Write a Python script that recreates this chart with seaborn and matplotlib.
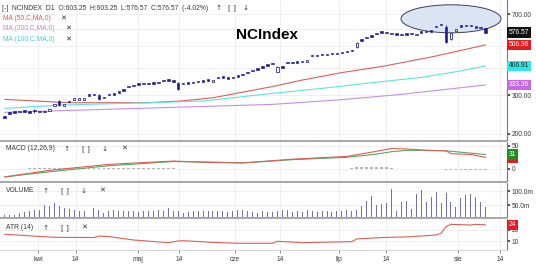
import numpy as np
import pandas as pd
import matplotlib
matplotlib.use("Agg")
import matplotlib.pyplot as plt
import matplotlib.transforms as mtrans
from matplotlib.patches import Ellipse, Rectangle
from matplotlib.ticker import FixedLocator, NullLocator, FixedFormatter
import seaborn as sns

# ---------------- data ----------------
close_ = [
    237.0, 246.3, 248.9, 250.5, 252.3, 249.7, 254.2, 250.5, 250.5, 258.5,
    273.8, 270.0, 272.9, 278.1, 289.7, 290.0, 290.0, 297.4, 299.9, 286.6,
    294.6, 299.9, 300.8, 306.9, 313.3, 325.4, 329.5, 333.7, 336.5, 336.5,
    337.5, 340.0, 347.2, 348.0, 344.6, 319.3, 336.5, 337.2, 339.3, 342.5,
    344.6, 348.3, 350.8, 358.3, 358.3, 355.7, 358.3, 363.2, 369.7, 376.3,
    384.3, 391.2, 399.9, 407.1, 413.5, 403.2, 399.1, 417.9, 417.9, 420.5,
    422.3, 432.5, 451.0, 451.0, 455.8, 455.8, 459.1, 459.1, 464.0, 468.9,
    475.3, 518.4, 529.3, 542.9, 552.0, 566.0, 575.6, 572.0, 566.6, 563.1,
    561.9, 563.7, 566.0, 569.6, 575.6, 579.8, 581.6, 619.3, 623.9, 523.8,
    572.0, 598.3, 612.8, 617.4, 617.4, 606.5, 602.7, 576.57]
open_ = [
    240.8, 250.2, 252.9, 254.5, 256.3, 253.7, 257.0, 254.5, 254.5, 254.4,
    266.5, 281.6, 268.5, 282.5, 285.1, 285.4, 285.4, 302.2, 304.7, 299.9,
    289.9, 304.7, 305.6, 311.8, 318.3, 330.6, 334.8, 339.0, 341.9, 341.9,
    342.9, 345.4, 352.8, 353.6, 350.1, 341.8, 341.9, 342.6, 344.7, 348.0,
    350.1, 353.9, 345.2, 364.0, 364.5, 361.4, 364.0, 369.0, 375.6, 382.3,
    390.4, 397.5, 406.3, 413.6, 420.1, 382.7, 405.5, 424.6, 424.6, 427.2,
    429.1, 425.6, 458.2, 458.2, 463.1, 463.1, 466.4, 466.4, 471.4, 476.4,
    482.9, 494.0, 537.8, 551.6, 560.8, 575.1, 584.8, 581.2, 575.7, 572.1,
    570.9, 572.7, 575.1, 560.6, 584.8, 589.1, 590.9, 609.5, 633.9, 612.8,
    538.9, 588.9, 622.6, 627.3, 627.3, 616.2, 612.3, 603.25]
wick_idx = [6, 11, 19, 35, 55, 71, 89, 90]
wick_high = [260.0, 284.0, 302.0, 343.0, 405.0, 520.0, 621.0, 575.0]
wick_low = [249.0, 268.0, 285.0, 317.0, 380.0, 492.0, 515.0, 536.0]

ma50_idx = [0, 13, 29, 36, 42, 54, 60, 68, 76, 86, 97]
ma50 = [286.6, 276.7, 276.7, 282.5, 291.5, 327.8, 350.8, 379.5, 404.1, 446.3, 506.96]
ma100_idx = [0, 11, 29, 40, 54, 64, 74, 84, 91, 97]
ma100 = [260.9, 270.0, 276.7, 281.6, 305.3, 321.6, 341.1, 360.9, 382.7, 406.91]
ma200_idx = [0, 27, 54, 67, 80, 97]
ma200 = [250.2, 260.9, 272.0, 284.6, 302.1, 333.36]

macd_idx = [0, 9, 21, 34, 41, 48, 58, 69, 75, 78, 81, 85, 89, 90, 94, 97]
macd = [-17, -3, 10, 17, 14, 13, 21, 27, 38, 44, 43, 40, 39, 33, 31, 25]
signal = [-17, -6, 7, 16, 15, 13, 20, 25, 32, 37, 40, 40, 39, 38, 34, 31]
hist = [
    0.8, 0.8, 0.8, 0.8, 0.8, 1.2, 1.2, 1.2, 1.2, 1.2,
    1.2, 2.0, 2.0, 2.0, 2.0, 2.0, 2.0, 2.0, 2.0, 2.0,
    2.0, 2.0, 2.0, 2.0, 2.0, 2.0, 2.0, 2.0, 2.0, 2.0,
    2.0, 2.0, 2.0, 2.0, 2.0, 1.0, 0.0, 0.6, 0.6, 0.6,
    0.6, 0.6, 0.0, 0.0, 0.0, 0.0, 0.0, 1.0, 1.0, 1.0,
    1.0, 1.0, 1.0, 1.0, 1.0, 1.0, 1.0, 1.0, 1.0, 1.0,
    1.0, 1.0, 1.0, 1.0, 1.0, 1.0, 1.0, 1.0, 1.0, 1.0,
    3.0, 4.0, 5.0, 5.0, 5.0, 5.0, 4.0, 4.0, 3.0, 1.0,
    1.0, 1.0, 0.0, 0.0, -0.8, -0.8, -0.8, -0.8, -0.8, -2.5,
    -2.5, -2.5, -2.5, -2.5, -2.5, -2.5, -2.5, -2.5]
volume_m = [
    14, 14, 15, 22, 26, 28, 32, 31, 50, 45,
    57, 45, 39, 36, 33, 30, 27, 30, 40, 33,
    23, 27, 33, 30, 30, 27, 27, 25, 30, 30,
    30, 33, 30, 40, 30, 30, 23, 25, 27, 30,
    27, 27, 28, 30, 27, 25, 30, 33, 31, 27,
    25, 22, 30, 26, 24, 30, 32, 31, 25, 30,
    26, 31, 27, 25, 27, 28, 25, 27, 27, 32,
    30, 33, 45, 64, 82, 50, 55, 58, 108, 30,
    60, 66, 36, 91, 103, 60, 80, 98, 56, 93,
    60, 44, 75, 86, 90, 80, 60, 44]
atr_idx = [0, 10, 18, 19, 21, 26, 33, 35, 36, 42, 47, 54, 55, 56, 60, 70, 71, 76, 82, 87, 88, 89, 90, 94, 95, 97]
atr = [16.0, 13.4, 13.2, 14.5, 14.0, 11.1, 8.8, 10.3, 10.5, 9.1, 8.3, 8.3, 10.0, 9.8, 8.8, 9.7, 12.0, 13.2, 13.9,
       15.4, 16.8, 22.5, 24.5, 23.9, 24.5, 24.0]

tick_pos = [6.8, 14.3, 26.9, 35.1, 46.4, 55.5, 67.4, 76.9, 91.4, 99.9]
tick_labels = ["kwi", "14", "maj", "14", "cze", "14", "lip", "14", "sie", "14"]
price_ticks = [200, 300, 400, 500, 600, 700]
price_tick_labels = ["200.00", "300.00", "", "", "", "700.00"]

# ---------------- style ----------------
sns.set_theme(style="white")
plt.rcParams["font.family"] = ["Liberation Sans", "DejaVu Sans"]

W, H = 536, 264
fig = plt.figure(figsize=(W / 100, H / 100), dpi=100)
fig.patch.set_facecolor("white")

RIGHT = 507


def add_ax(top, bottom):
    return fig.add_axes([0, 1 - bottom / H, RIGHT / W, (bottom - top) / H])


def fx(px):
    return px / W


def fy(py):
    return 1 - py / H


ax = add_ax(0, 140)
ax_m = add_ax(142, 180.5)
ax_v = add_ax(182.5, 216.6)
ax_a = add_ax(218.6, 250)

NAVY = "#1d1d8e"
GRID = "#eeeeee"
TXT = "#3a3a3a"
xlim = (-0.95, 101.3)

for a in (ax, ax_m, ax_v, ax_a):
    a.set_facecolor("white")
    a.set_xlim(*xlim)
    a.xaxis.set_major_locator(FixedLocator(tick_pos))
    a.grid(True, axis="both", color=GRID, linewidth=0.6)
    a.set_axisbelow(True)
    for s in ("left", "top", "bottom"):
        a.spines[s].set_visible(False)
    a.spines["right"].set_color("#777777")
    a.spines["right"].set_linewidth(0.8)
    a.yaxis.tick_right()
    a.tick_params(axis="y", which="both", direction="out", length=2, pad=1.5,
                  labelsize=4.8, colors=TXT, right=True, left=False)
    a.tick_params(axis="x", which="both", bottom=False, labelbottom=False)
    a.set_xlabel("")
    a.set_ylabel("")

blend = lambda a: mtrans.blended_transform_factory(a.transAxes, a.transData)


def value_box(a, y, label, fc, tc="white"):
    a.text(1.004, y, label, transform=blend(a), fontsize=4.8, color=tc,
           va="center", ha="left", clip_on=False, zorder=20,
           bbox=dict(boxstyle="square,pad=0.25", fc=fc, ec="none"))


# ---------------- main price panel ----------------
ax.set_yscale("log")
ax.set_ylim(187.4, 810.6)
ax.yaxis.set_major_locator(FixedLocator(price_ticks))
ax.yaxis.set_major_formatter(FixedFormatter(price_tick_labels))
ax.yaxis.set_minor_locator(NullLocator())

ell = Ellipse((451 / RIGHT, 1 - 18.8 / 140), 100 / RIGHT, 28 / 140, transform=ax.transAxes,
              facecolor="#dae4f3", edgecolor="#3c3c5c", linewidth=0.7, zorder=1)
ax.add_patch(ell)

sns.lineplot(x=ma50_idx, y=ma50, ax=ax, color="#d9605a", linewidth=0.8, legend=False, zorder=2)
sns.lineplot(x=ma100_idx, y=ma100, ax=ax, color="#5fe3dc", linewidth=0.8, legend=False, zorder=2)
sns.lineplot(x=ma200_idx, y=ma200, ax=ax, color="#c78fe0", linewidth=0.8, legend=False, zorder=2)

idx = np.arange(len(close_))
o = np.array(open_)
c = np.array(close_)
up = c > o
lo = np.minimum(o, c)
hi = np.maximum(o, c)
ax.vlines(wick_idx, wick_low, wick_high, color=NAVY, linewidth=0.6, zorder=3)
ax.bar(idx[~up], (hi - lo)[~up], bottom=lo[~up], width=0.5, color=NAVY,
       edgecolor=NAVY, linewidth=0.45, zorder=4)
ax.bar(idx[up], (hi - lo)[up], bottom=lo[up], width=0.5, color="white",
       edgecolor=NAVY, linewidth=0.55, zorder=4)

ax.text(267 / RIGHT, 1 - 35 / 140, "NCIndex", transform=ax.transAxes, fontsize=11,
        fontweight="bold", color="black", ha="center", va="center", zorder=10)

value_box(ax, ma200[-1], f"{ma200[-1]:.2f}", "#c867e6")
value_box(ax, ma100[-1], f"{ma100[-1]:.2f}", "#33e6e6", tc="#222222")
value_box(ax, ma50[-1], f"{ma50[-1]:.2f}", "#e41b1f")
value_box(ax, close_[-1], f"{close_[-1]:.2f}", "#111111")

# ---------------- MACD ----------------
ax_m.set_ylim(-24.7, 57.9)
ax_m.yaxis.set_major_locator(FixedLocator([0, 50]))
ax_m.yaxis.set_major_formatter(FixedFormatter(["0", "50"]))
ax_m.bar(idx, hist, width=0.55, color="#b5b5b5", linewidth=0, zorder=2)
sns.lineplot(x=macd_idx, y=signal, ax=ax_m, color="#5aa55a", linewidth=0.8, legend=False, zorder=3)
sns.lineplot(x=macd_idx, y=macd, ax=ax_m, color="#d9605a", linewidth=0.8, legend=False, zorder=3)
value_box(ax_m, macd[-1], f"{macd[-1]:.0f}", "#e41b1f")
value_box(ax_m, signal[-1], f"{signal[-1]:.0f}", "#1f8c1f")

# ---------------- Volume ----------------
ax_v.set_ylim(8.6, 130.4)
ax_v.yaxis.set_major_locator(FixedLocator([50, 100]))
ax_v.yaxis.set_major_formatter(FixedFormatter(["50.0m", "100.0m"]))
ax_v.bar(idx, volume_m, width=0.2, color="#7272aa", linewidth=0, zorder=2)

# ---------------- ATR ----------------
ax_a.set_ylim(2.56, 29.4)
ax_a.yaxis.set_major_locator(FixedLocator([10, 20]))
ax_a.yaxis.set_major_formatter(FixedFormatter(["10", "20"]))
sns.lineplot(x=atr_idx, y=atr, ax=ax_a, color="#d9605a", linewidth=0.8, legend=False, zorder=3)
value_box(ax_a, atr[-1], f"{atr[-1]:.0f}", "#e41b1f")
ax_a.spines["bottom"].set_visible(True)
ax_a.spines["bottom"].set_color("#cccccc")
ax_a.spines["bottom"].set_linewidth(0.6)
ax_a.xaxis.set_major_formatter(FixedFormatter(tick_labels))
ax_a.tick_params(axis="x", bottom=True, labelbottom=True, direction="out", length=2.5,
                 width=0.6, color="#777777", labelsize=4.8, labelcolor=TXT, pad=2)

# ---------------- separators ----------------
for t, b in ((140, 142), (180.5, 182.5), (216.6, 218.6)):
    fig.add_artist(Rectangle((0, fy(b)), fx(RIGHT), (b - t) / H, transform=fig.transFigure,
                             facecolor="#a9a9a9", edgecolor="none", zorder=5))

# ---------------- header texts ----------------
fs = 4.9
fig.text(fx(2), fy(8), "[-]  NCINDEX  D1  O:603.25  H:603.25  L:576.57  C:576.57  (-4.02%)",
         fontsize=fs, color=TXT, va="center", ha="left")
for xx, ic in ((219, "\u2191"), (232, "[ ]"), (246, "\u2193")):
    fig.text(fx(xx), fy(8), ic, fontsize=5.2, color="#333333", va="center", ha="center",
             family=["DejaVu Sans"])
for y, lab, col in ((18.3, "MA (50,C,MA,0)", "#e05a5a"),
                    (29.0, "MA (200,C,MA,0)", "#c585e0"),
                    (39.3, "MA (100,C,MA,0)", "#3fd6d6")):
    fig.text(fx(3), fy(y), lab, fontsize=fs, color=col, va="center", ha="left")
for y, xx in ((18.3, 63.3), (29.0, 68.3), (39.3, 67.7)):
    fig.text(fx(xx), fy(y), "\u2715", fontsize=5.2, color="#333333", va="center", ha="center",
             family=["DejaVu Sans"])

panel_labels = [
    (149, "MACD (12,26,9)", [(67, "\u2191"), (86, "[ ]"), (105, "\u2193"), (124, "\u2715")]),
    (191, "VOLUME", [(46, "\u2191"), (65, "[ ]"), (84, "\u2193"), (102.6, "\u2715")]),
    (227.6, "ATR (14)", [(46, "\u2191"), (65, "[ ]"), (84, "\u2715")]),
]
for y, lab, icons in panel_labels:
    fig.text(fx(6), fy(y), lab, fontsize=fs, color=TXT, va="center", ha="left", zorder=30)
    for xx, ic in icons:
        fig.text(fx(xx), fy(y), ic, fontsize=5.2, color="#333333", va="center", ha="center",
                 family=["DejaVu Sans"], zorder=30)

fig.savefig("out.png", dpi=100, facecolor="white")
